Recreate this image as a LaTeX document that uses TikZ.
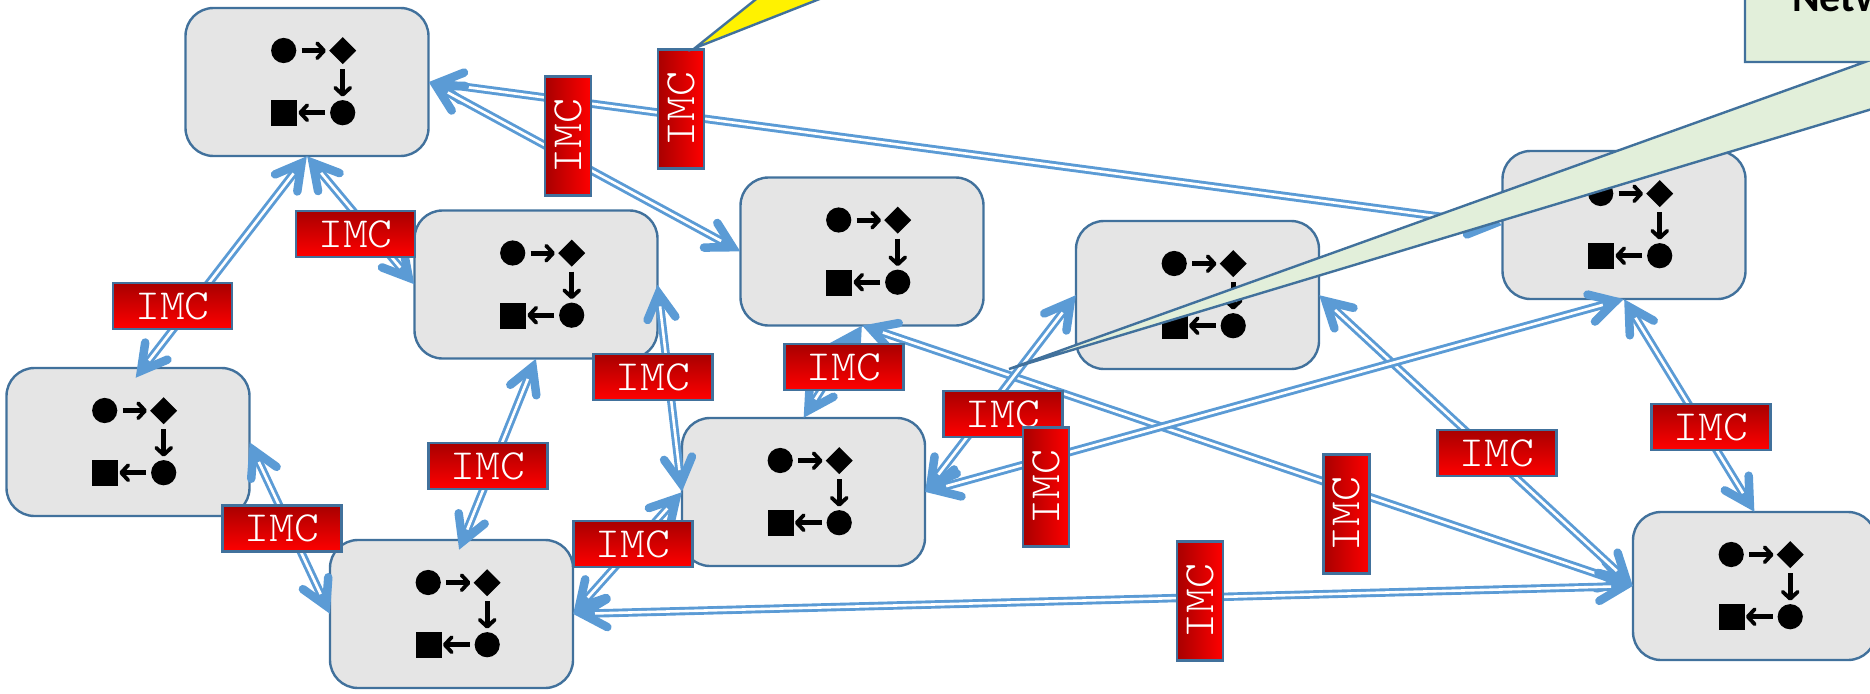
\documentclass[tikz,border=0pt]{standalone}
\usepackage{fontspec}
\usetikzlibrary{arrows.meta}
\newfontfamily\notefont{Carlito}
\newfontfamily\imcfont[FakeStretch=1.1]{Latin Modern Mono Light}
\definecolor{edgeblue}{HTML}{41719C}
\definecolor{linkblue}{HTML}{5B9BD5}
\definecolor{boxgrey}{HTML}{E5E5E5}
\definecolor{notegreen}{HTML}{E2EFDA}
\definecolor{imcdark}{HTML}{A80000}
\definecolor{imcmid}{HTML}{E60000}
\tikzset{
  unitbox/.style={draw=edgeblue,fill=boxgrey,line width=2.4pt,rounded corners=28pt,
    minimum width=243pt,minimum height=148pt,inner sep=0pt,outer sep=0pt},
  imcbase/.style={draw=edgeblue,line width=2.6pt,
    minimum width=119pt,minimum height=46pt,inner sep=0pt,outer sep=0pt,text=white,
    font=\imcfont\fontsize{43}{48}\selectfont},
  imc/.style={imcbase,top color=imcdark,middle color=imcmid,bottom color=red},
  imcup/.style={imcbase,left color=imcdark,middle color=imcmid,right color=red,rotate=90},
  link/.style={draw=linkblue,line width=8.4pt,shorten >=9pt,shorten <=9pt,
    postaction={draw=white,line width=2.6pt,shorten >=22pt,shorten <=22pt}},
  barbline/.style={draw=linkblue,line width=8.5pt,line cap=round,line join=miter,miter limit=10},
  barbend/.pic={\draw[barbline] (-34,14) -- (-9,0) -- (-34,-14);},
  barbstart/.pic={\draw[barbline] (34,14) -- (9,0) -- (34,-14);},
  flowarrow/.style={draw=black,line width=4.6pt,-{Straight Barb[length=7pt,width=15pt,line width=3.8pt,round]}},
  callout/.style={draw=edgeblue,line width=2.4pt,line join=miter},
  flowglyphs/.pic={
    \fill (-23.3,-31.5) circle (12.6);
    \fill (35.7,-44.8) -- (49.2,-31.3) -- (35.7,-17.8) -- (22.2,-31.3) -- cycle;
    \fill (35.7,30.7) circle (12.6);
    \fill (-36,18) rectangle (-10,44);
    \draw[flowarrow] (-5.3,-31.3) -- (19,-31.3);
    \draw[flowarrow] (35.7,-13) -- (35.7,14.7);
    \draw[flowarrow] (18,30.7) -- (-8.7,30.7);
  }
}
\newcommand\linkboxes[2]{\draw[link] (#1) -- (#2);
  \path (#1) -- (#2)
  pic[pos=0,sloped,allow upside down]{barbstart}
  pic[pos=1,sloped,allow upside down]{barbend};}
\begin{document}
\begin{tikzpicture}[x=1pt,y=-1pt]
\path[use as bounding box,clip] (0,0) rectangle (1870,693);

\node[unitbox] (A) at (307,82) {};
\node[unitbox] (B) at (536,284.5) {};
\node[unitbox] (C) at (862,251.5) {};
\node[unitbox] (D) at (1197.5,295) {};
\node[unitbox] (E) at (1624,225) {};
\node[unitbox] (F) at (128,442) {};
\node[unitbox] (G) at (451.5,614) {};
\node[unitbox] (H) at (803.5,492) {};
\node[unitbox] (I) at (1754.5,586) {};
\foreach \n in {A,B,C,D,E,F,G,H,I} \pic at (\n) {flowglyphs};

\linkboxes{A.east}{E.west}
\linkboxes{A.east}{C.west}
\linkboxes{A.south}{[shift={(7.5,10)}]F.north}
\linkboxes{A.south}{B.west}
\linkboxes{B.south}{[shift={(7.5,10)}]G.north}
\linkboxes{B.east}{H.west}
\linkboxes{C.south}{H.north}
\linkboxes{C.south}{I.west}
\linkboxes{D.west}{H.east}
\linkboxes{D.east}{I.west}
\linkboxes{E.south}{H.east}
\linkboxes{E.south}{I.north}
\linkboxes{F.east}{G.west}
\linkboxes{G.east}{H.west}
\linkboxes{G.east}{I.west}

\node[imc] (l1) at (172.5,306) {IMC};
\node[imc] (l2) at (355.5,234) {IMC};
\node[imc] (l3) at (282,528.5) {IMC};
\node[imc] (l4) at (488,466) {IMC};
\node[imc] (l5) at (653,377) {IMC};
\node[imc] (l6) at (633,544) {IMC};
\node[imc] (l7) at (844,367) {IMC};
\node[imc] (l8) at (1003,414) {IMC};
\node[imc] (l9) at (1497,453) {IMC};
\node[imc] (l10) at (1711,427) {IMC};
\node[imcup] (v1) at (568,136) {IMC};
\node[imcup] (v2) at (681,109) {IMC};
\node[imcup] (v3) at (1046,487) {IMC};
\node[imcup] (v4) at (1346.5,514) {IMC};
\node[imcup] (v5) at (1200,601) {IMC};

\draw[callout,fill=yellow] (695,48) -- (815,-48) -- (939,-48) -- cycle;
\draw[callout,fill=notegreen] (1745,-20) -- (1745,62) -- (1865,62) -- (1009,369) -- (1900,100.6) -- (1900,-20) -- cycle;
\node[anchor=base west,inner sep=0pt,font=\notefont\bfseries\fontsize{42}{46}\selectfont] (note) at (1792,11.7) {Netw};
\end{tikzpicture}
\end{document}
